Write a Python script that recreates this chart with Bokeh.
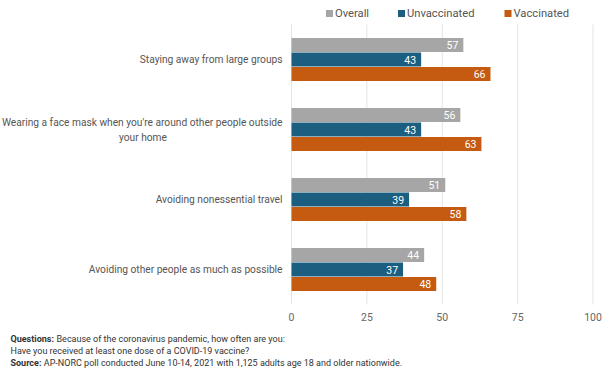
from bokeh.plotting import figure
from bokeh.models import Range1d, ColumnDataSource
from bokeh.embed import file_html
from bokeh.resources import INLINE
from bokeh.core.properties import value

categories = [
    "Staying away from large groups",
    "Wearing a face mask when you're around other people outside\nyour home",
    "Avoiding nonessential travel",
    "Avoiding other people as much as possible",
]
overall = [57, 56, 51, 44]
unvaccinated = [43, 43, 39, 37]
vaccinated = [66, 63, 58, 48]
series_names = ["Overall", "Unvaccinated", "Vaccinated"]
series_colors = ["#a6a6a6", "#1b5e80", "#c55a11"]
x_ticks = [0, 25, 50, 75, 100]
x_tick_labels = ["0", "25", "50", "75", "100"]
notes_bold = ["Questions:", "", "Source:"]
notes_text = ["Because of the coronavirus pandemic, how often are you:",
              "Have you received at least one dose of a COVID-19 vaccine?",
              "AP-NORC poll conducted June 10-14, 2021 with 1,125 adults age 18 and older nationwide."]

FONT = "Roboto"
W, H = 606, 372
# layout in pixels (page coords)
X0_PX, X100_PX = 291.0, 592.5       # value 0 and value 100
TOP_PX, BAND_PX = 24.0, 70.0        # top of first category band, band height
n = len(categories)
sx = (X100_PX - X0_PX) / 100.0      # px per value unit


def dx(px):
    return (px - X0_PX) / sx


def dy(py):
    return (py - TOP_PX) / BAND_PX


p = figure(width=W, height=H, output_backend="svg", toolbar_location=None,
           x_range=Range1d(dx(0), dx(W)), y_range=Range1d(dy(H), dy(0)),
           min_border=0, min_border_left=0, min_border_right=0,
           min_border_top=0, min_border_bottom=0)
p.outline_line_color = None
p.background_fill_color = "white"
p.border_fill_color = "white"
p.axis.visible = False
p.grid.visible = False

# grid lines
p.segment(x0=x_ticks, x1=x_ticks, y0=[0] * len(x_ticks), y1=[n] * len(x_ticks),
          line_color="#e3e3e3", line_width=1)
# tick labels
p.text(x=x_ticks, y=[dy(316)] * len(x_ticks), text=x_tick_labels,
       text_align="center", text_baseline="middle", text_color="#666666",
       text_font=value(FONT), text_font_size="10.5px")

bar_step = 14.5 / BAND_PX
bar_h = 14.0 / BAND_PX
offsets = [-bar_step, 0.0, bar_step]
for vals, name, col, off in zip([overall, unvaccinated, vaccinated], series_names, series_colors, offsets):
    ys = [i + 0.5 + off for i in range(n)]
    src = ColumnDataSource(dict(y=ys, v=vals, t=[str(v) for v in vals]))
    p.hbar(y="y", right="v", left=0, height=bar_h, source=src,
           fill_color=col, line_color=None)
    p.text(x="v", y="y", text="t", source=src, x_offset=-5,
           text_align="right", text_baseline="middle", text_color="white",
           text_font=value(FONT), text_font_size="10.5px")

# category labels
CAT_FS = "10.2px"
char_w = 4.73
for i, cat in enumerate(categories):
    lines = cat.split("\n")
    yc = i + 0.5
    if len(lines) == 1:
        p.text(x=[0], y=[yc], x_offset=-9, text=[lines[0]], text_align="right",
               text_baseline="middle", text_font=value(FONT), text_font_size=CAT_FS,
               text_color="#555555")
    else:
        y1 = yc - 7.0 / BAND_PX
        y2 = yc + 8.0 / BAND_PX
        p.text(x=[0], y=[y1], x_offset=-9, text=[lines[0]], text_align="right",
               text_baseline="middle", text_font=value(FONT), text_font_size=CAT_FS,
               text_color="#555555")
        center = -9 - len(lines[0]) * char_w / 2
        p.text(x=[0], y=[y2], x_offset=center, text=[lines[1]], text_align="center",
               text_baseline="middle", text_font=value(FONT), text_font_size=CAT_FS,
               text_color="#555555")

# legend (manual)
leg_sq_px = [329.0, 401.0, 507.5]
leg_y = dy(13)
p.rect(x=[dx(v) for v in leg_sq_px], y=[leg_y] * 3, width=7, height=7,
       width_units="screen", height_units="screen", fill_color=series_colors, line_color=None)
p.text(x=[dx(v) for v in leg_sq_px], y=[leg_y] * 3, x_offset=5.5, text=series_names,
       text_align="left", text_baseline="middle", text_color="#555555",
       text_font=value(FONT), text_font_size="11.2px")

# footnotes
bold_w = [46, 0, 33.3]
for k in range(3):
    yy = dy(338 + 12 * k)
    if notes_bold[k]:
        p.text(x=[dx(10)], y=[yy], text=[notes_bold[k]], text_align="left", text_baseline="middle",
               text_font=value(FONT), text_font_size="9px", text_font_style="bold",
               text_color="#333333")
    p.text(x=[dx(10)], y=[yy], x_offset=bold_w[k], text=[notes_text[k]],
           text_align="left", text_baseline="middle", text_font=value(FONT), text_font_size="9px",
           text_color="#333333")

open("out.html", "w").write(file_html(p, INLINE))
